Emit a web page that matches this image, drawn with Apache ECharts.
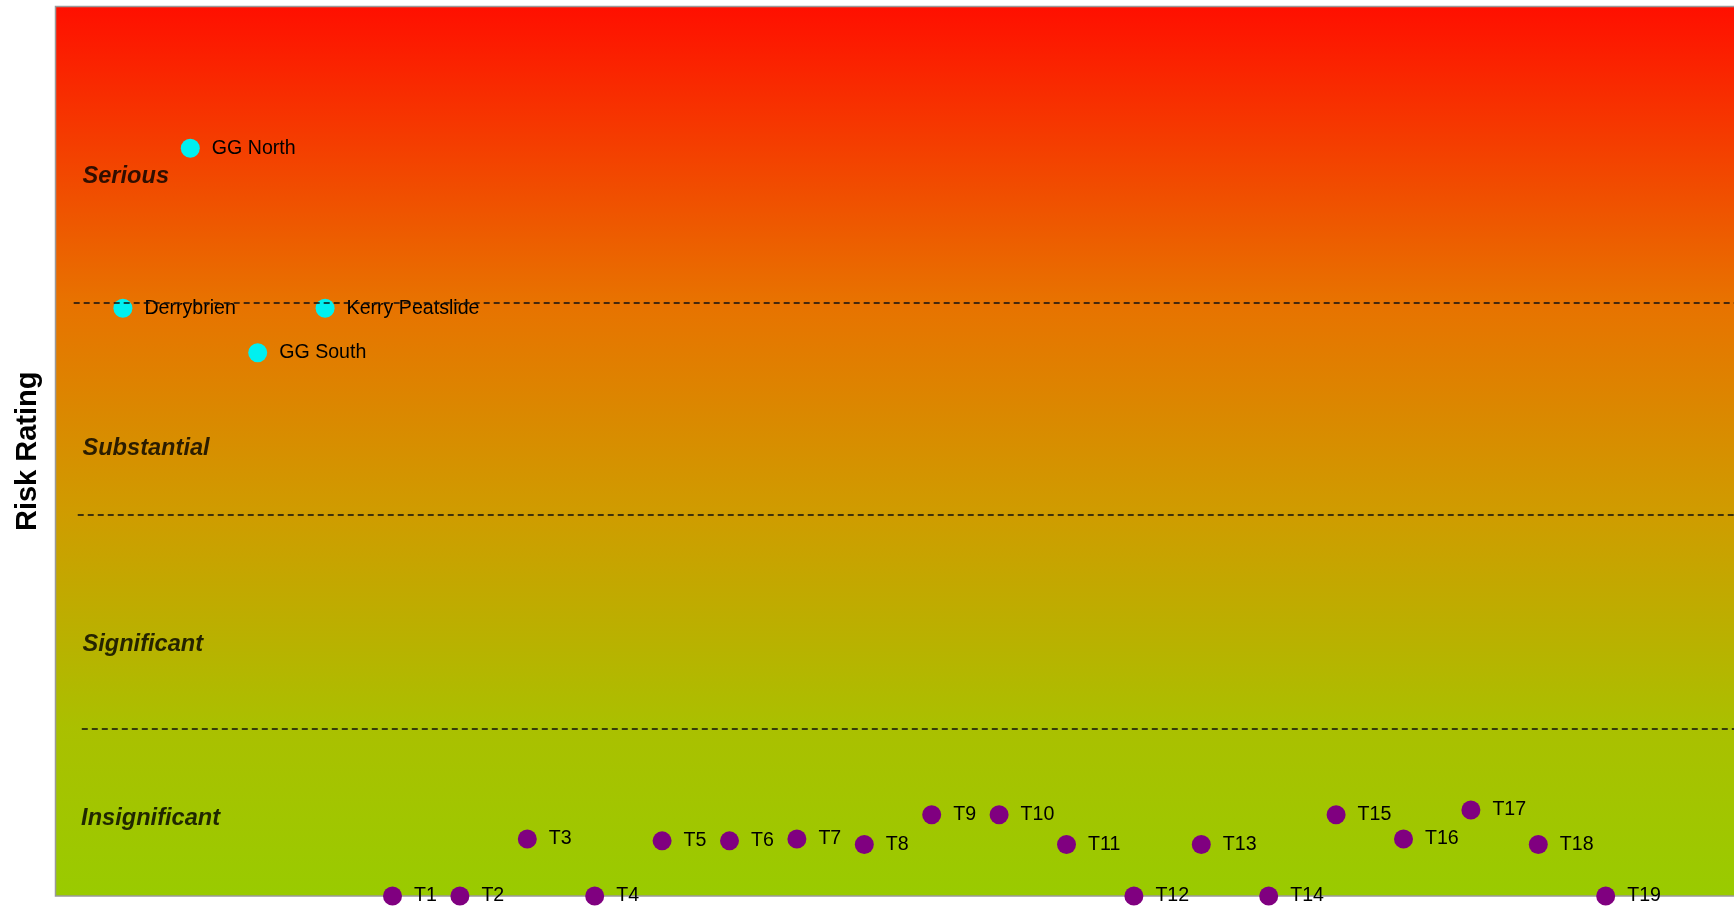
<!DOCTYPE html>
<html>
<head>
<meta charset="utf-8">
<script src="https://cdn.jsdelivr.net/npm/echarts@6/dist/echarts.min.js"></script>
<style>
html,body{margin:0;padding:0;background:#fff;}
#chart{width:1734px;height:906px;}
</style>
</head>
<body>
<div id="chart"></div>
<script>
// Wind farm sites (cyan)
const siteNames = ['Derrybrien', 'GG North', 'GG South', 'Kerry Peatslide'];
const siteX = [1, 2, 3, 4];
const siteRisk = [9.91, 12.61, 9.16, 9.91];

// Turbines (purple)
const turbineNames = ['T1','T2','T3','T4','T5','T6','T7','T8','T9','T10','T11','T12','T13','T14','T15','T16','T17','T18','T19'];
const turbineX = [5,6,7,8,9,10,11,12,13,14,15,16,17,18,19,20,21,22,23];
const turbineRisk = [0, 0, 0.96, 0, 0.93, 0.93, 0.96, 0.87, 1.37, 1.37, 0.87, 0, 0.87, 0, 1.37, 0.96, 1.45, 0.87, 0];

// Risk band thresholds (dashed lines) and where each line starts
const thresholds = [10.0, 6.43, 2.82];
const thresholdStartX = [0.27, 0.33, 0.39];

// Band labels
const bandNames = ['Serious', 'Substantial', 'Significant', 'Insignificant'];
const bandY = [12.13, 7.55, 4.24, 1.31];
const bandX = [0.4, 0.4, 0.4, 0.38];

const xMax = 25, yMax = 15;

const chart = echarts.init(document.getElementById('chart'));

const labelStyle = {
  show: true,
  position: 'right',
  distance: 12,
  formatter: '{b}',
  color: '#000',
  fontFamily: 'Liberation Sans, Arial, sans-serif',
  fontSize: 19.6
};

chart.setOption({
  animation: false,
  grid: {
    left: 55.5, top: 6.5, width: 1685, bottom: 10,
    outerBoundsMode: 'none',
    containLabel: false,
    show: true,
    borderColor: '#9a9a9a',
    borderWidth: 1.5,
    backgroundColor: {
      type: 'linear', x: 0, y: 0, x2: 0, y2: 1,
      colorStops: [
        { offset: 0, color: '#ff0f00' },
        { offset: 0.33, color: '#e87200' },
        { offset: 0.57, color: '#cf9c00' },
        { offset: 0.81, color: '#aac000' },
        { offset: 1, color: '#99cb00' }
      ]
    }
  },
  xAxis: {
    type: 'value', min: 0, max: xMax,
    axisLine: { show: false }, axisTick: { show: false },
    axisLabel: { show: false }, splitLine: { show: false }
  },
  yAxis: {
    type: 'value', min: 0, max: yMax,
    name: 'Risk Rating',
    nameLocation: 'middle',
    nameGap: 13,
    nameTextStyle: {
      fontFamily: 'Liberation Sans, Arial, sans-serif',
      fontSize: 29, fontWeight: 'bold', color: '#000'
    },
    axisLine: { show: false }, axisTick: { show: false },
    axisLabel: { show: false }, splitLine: { show: false }
  },
  series: [
    {
      name: 'Bands',
      type: 'scatter',
      symbolSize: 0,
      silent: true,
      data: bandNames.map((n, i) => ({ name: n, value: [bandX[i], bandY[i]] })),
      label: {
        show: true, position: 'right', distance: 0, formatter: '{b}',
        color: '#000',
        fontFamily: 'Liberation Sans, Arial, sans-serif',
        fontSize: 23.6, fontWeight: 'bold', fontStyle: 'italic'
      },
      markLine: {
        silent: true,
        symbol: 'none',
        label: { show: false },
        lineStyle: { color: '#111', type: [6, 4], width: 1.6 },
        data: thresholds.map((t, i) => [
          { coord: [thresholdStartX[i], t] },
          { coord: [xMax, t] }
        ])
      }
    },
    {
      name: 'Sites',
      type: 'scatter',
      symbolSize: 19,
      itemStyle: { color: '#00f0f0', opacity: 1 },
      data: siteNames.map((n, i) => ({ name: n, value: [siteX[i], siteRisk[i]] })),
      label: labelStyle,
      z: 3
    },
    {
      name: 'Turbines',
      type: 'scatter',
      symbolSize: 19,
      clip: false,
      itemStyle: { color: '#800080', opacity: 1 },
      data: turbineNames.map((n, i) => ({ name: n, value: [turbineX[i], turbineRisk[i]] })),
      label: labelStyle,
      z: 3
    }
  ]
});
</script>
</body>
</html>
